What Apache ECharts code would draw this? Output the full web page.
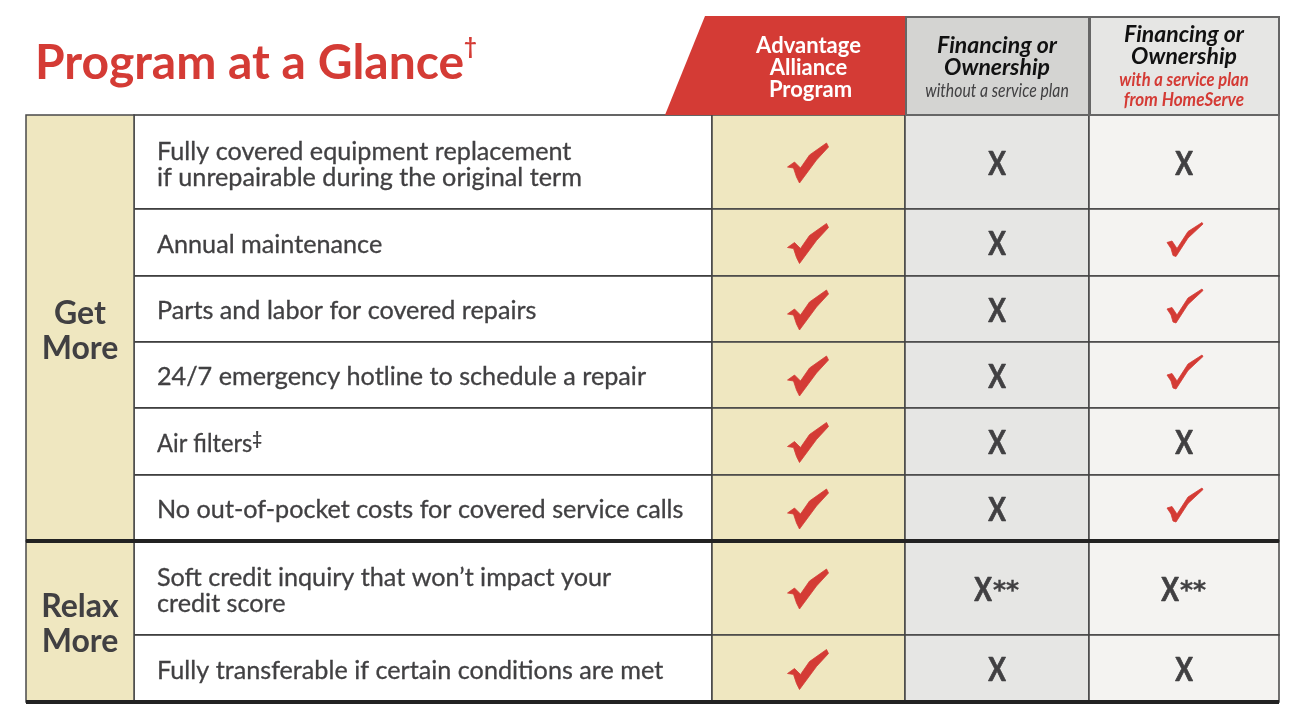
<!DOCTYPE html>
<html>
<head>
<meta charset="utf-8">
<title>Program at a Glance</title>
<style>html,body{margin:0;padding:0;background:#fff}#main{width:1295px;height:724px}</style>
<script src="https://cdn.jsdelivr.net/npm/echarts@6/dist/echarts.min.js"></script>
</head>
<body>
<div id="main"></div>
<script>
// table content
var titleText = 'Program at a Glance';
var groups = ['Get\nMore', 'Relax\nMore'];
var groupRows = [[0, 5], [6, 7]];
var rowLabels = [
	'Fully covered equipment replacement\nif unrepairable during the original term',
	'Annual maintenance',
	'Parts and labor for covered repairs',
	'24/7 emergency hotline to schedule a repair',
	'Air filters',
	'No out-of-pocket costs for covered service calls',
	'Soft credit inquiry that won\u2019t impact your\ncredit score',
	'Fully transferable if certain conditions are met'
];
var advantage = ['check', 'check', 'check', 'check', 'check', 'check', 'check', 'check'];
var withoutPlan = ['X', 'X', 'X', 'X', 'X', 'X', 'X**', 'X'];
var withPlan = ['X', 'check', 'check', 'check', 'X', 'check', 'X**', 'X'];

// layout of the table on the value axes
var colEdges = [26, 134, 712, 905, 1089, 1279];
var rowEdges = [115, 209, 276, 342, 408, 475, 541, 635, 702];
var headTop = 16;
var font = 'Lato, sans-serif';
var red = '#d43b35', dark = '#414042', cream = '#efe7c0';

// tick glyphs, relative to the centre of the cell
var checkBold = [[-21,5],[-14,0],[-8,6],[1,-7],[18,-19],[20,-15],[8,-2],[-9,21],[-12,15],[-15,6]];
var checkThin = [[-17,0],[-12,-1.5],[-7,6],[4,-11],[18,-20],[19,-18.5],[4,-4.5],[-8,14],[-11,13],[-13,6]];

var cellData = [];
[advantage, withoutPlan, withPlan].forEach(function (col, c) {
	col.forEach(function (v, r) { cellData.push([c, r, v]); });
});
var cellFill = [cream, '#e6e6e4', '#f4f3f1'];

function renderCell(params, api) {
	var c = api.value(0), r = api.value(1), v = cellData[params.dataIndex][2];
	var tl = api.coord([colEdges[c + 2], rowEdges[r]]);
	var br = api.coord([colEdges[c + 3], rowEdges[r + 1]]);
	var cx = (tl[0] + br[0]) / 2, cy = (tl[1] + br[1]) / 2;
	var kids = [{
		type: 'rect',
		shape: { x: tl[0], y: tl[1], width: br[0] - tl[0], height: br[1] - tl[1] },
		style: { fill: cellFill[c], stroke: '#444', lineWidth: 1.5 }
	}];
	if (v === 'check') {
		var pts = c === 0 ? checkBold : checkThin;
		kids.push({
			type: 'polygon',
			shape: { points: pts.map(function (p) { return [cx + p[0], cy + p[1]]; }) },
			style: { fill: red, stroke: red, lineWidth: 0.8, lineJoin: 'round' }
		});
	} else {
		var hasStars = v.length > 1;
		kids.push({
			type: 'text',
			x: hasStars ? cx - 14 : cx, y: cy + 2, scaleX: 0.8, scaleY: 1,
			style: { text: 'X', font: 'bold 33px ' + font, fill: dark, stroke: dark, lineWidth: 0.7, align: 'center', verticalAlign: 'middle' }
		});
		if (hasStars) {
			kids.push({
				type: 'text',
				x: cx - 4, y: cy + 3,
				style: { text: v.slice(1), font: 'bold 25px "DejaVu Sans"', fill: dark, stroke: dark, lineWidth: 0.3, align: 'left', verticalAlign: 'middle' }
			});
		}
	}
	return { type: 'group', children: kids };
}

function renderRow(params, api) {
	var r = api.value(0);
	var tl = api.coord([colEdges[1], rowEdges[r]]);
	var br = api.coord([colEdges[2], rowEdges[r + 1]]);
	var txt = rowLabels[r];
	var rich = {
		t: { font: '25.2px ' + font, fill: dark, lineHeight: 26.5, stroke: dark, lineWidth: 0.3 },
		s: { font: 'bold 18px ' + font, fill: dark, lineHeight: 18, verticalAlign: 'top' }
	};
	var isAir = txt === 'Air filters';
	var label = isAir ? '{t|' + txt + '}{s|\u2021}' : txt.split('\n').map(function (s) { return '{t|' + s + '}'; }).join('\n');
	return {
		type: 'group',
		children: [{
			type: 'rect',
			shape: { x: tl[0], y: tl[1], width: br[0] - tl[0], height: br[1] - tl[1] },
			style: { fill: '#fff', stroke: '#333', lineWidth: 1.5 }
		}, {
			type: 'text',
			x: tl[0] + 23, y: (tl[1] + br[1]) / 2 + (txt.indexOf('\n') >= 0 ? 3 : 2),
			scaleX: isAir ? 0.94 : 1, scaleY: 1,
			style: { text: label, rich: rich, align: 'left', verticalAlign: 'middle' }
		}]
	};
}

function renderGroup(params, api) {
	var g = api.value(0), span = groupRows[g];
	var tl = api.coord([colEdges[0], rowEdges[span[0]]]);
	var br = api.coord([colEdges[1], rowEdges[span[1] + 1]]);
	return {
		type: 'group',
		children: [{
			type: 'rect',
			shape: { x: tl[0], y: tl[1], width: br[0] - tl[0], height: br[1] - tl[1] },
			style: { fill: cream, stroke: '#4a4a4a', lineWidth: 1.5 }
		}, {
			type: 'text',
			x: (tl[0] + br[0]) / 2, y: (tl[1] + br[1]) / 2 + 3,
			style: { text: groups[g], font: 'bold 32px ' + font, fill: dark, align: 'center', verticalAlign: 'middle', lineHeight: 35 }
		}]
	};
}

function txt(x, y, s, fnt, fill, sx) {
	return {
		type: 'text', x: x, y: y, scaleX: sx || 1, scaleY: 1,
		style: { text: s, font: fnt, fill: fill, align: 'center', verticalAlign: 'middle' }
	};
}

function renderHead(params, api) {
	var c = api.value(0);
	var top = api.coord([colEdges[c + 2], headTop]);
	var bot = api.coord([colEdges[c + 3], rowEdges[0]]);
	var cx = (top[0] + bot[0]) / 2;
	var kids = [];
	if (c === 0) {
		kids.push({
			type: 'polygon',
			shape: { points: [api.coord([705, headTop]), [bot[0], top[1]], bot, api.coord([665, rowEdges[0]])] },
			style: { fill: red }
		});
		kids.push(txt(cx, top[1] + 30, 'Advantage', 'bold 22px ' + font, '#fff'));
		kids.push(txt(cx, top[1] + 52, 'Alliance', 'bold 22px ' + font, '#fff'));
		kids.push(txt(cx + 2, top[1] + 74, 'Program', 'bold 22px ' + font, '#fff'));
	} else {
		kids.push({
			type: 'rect',
			shape: { x: top[0] + 1, y: top[1] + 1, width: bot[0] - top[0] - 1, height: bot[1] - top[1] - 1 },
			style: { fill: c === 1 ? '#d4d4d2' : '#e6e6e4', stroke: '#666', lineWidth: 2 }
		});
		var ital = 'italic bold 23px ' + font;
		if (c === 1) {
			kids.push(txt(cx, top[1] + 30, 'Financing or', ital, '#111'));
			kids.push(txt(cx, top[1] + 52, 'Ownership', ital, '#111'));
			kids.push(txt(cx, top[1] + 75, 'without a service plan', 'italic 19px ' + font, dark, 0.83));
		} else {
			kids.push(txt(cx, top[1] + 19, 'Financing or', ital, '#111'));
			kids.push(txt(cx, top[1] + 41, 'Ownership', ital, '#111'));
			kids.push(txt(cx, top[1] + 64, 'with a service plan', 'italic bold 19px ' + font, red, 0.87));
			kids.push(txt(cx, top[1] + 84, 'from HomeServe', 'italic bold 19px ' + font, red, 0.9));
		}
	}
	return { type: 'group', children: kids };
}

function renderRule(params, api) {
	var r = api.value(0);
	var a = api.coord([colEdges[0], rowEdges[r]]);
	var b = api.coord([colEdges[5], rowEdges[r]]);
	return {
		type: 'line',
		shape: { x1: a[0], y1: a[1], x2: b[0], y2: b[1] },
		style: { stroke: '#222', lineWidth: 4 }
	};
}

function customSeries(fn, data, z) {
	return { type: 'custom', renderItem: fn, data: data, silent: true, z: z, animation: false, clip: false };
}

var dom = document.getElementById('main');
var myChart = echarts.init(dom);
var option = {
	backgroundColor: '#fff',
	animation: false,
	title: {
		left: 35, top: 36, padding: 0,
		text: '{a|' + titleText + '}{b|\u2020}',
		textStyle: {
			rich: {
				a: { fontFamily: 'Lato', fontWeight: 'bold', fontSize: 48, color: red, lineHeight: 56 },
				b: { fontFamily: 'Lato', fontWeight: 'bold', fontSize: 22, color: red, lineHeight: 42, verticalAlign: 'top' }
			}
		}
	},
	grid: { left: 0, right: 0, top: 0, bottom: 0 },
	xAxis: { type: 'value', min: 0, max: 1295, show: false },
	yAxis: { type: 'value', min: 0, max: 724, inverse: true, show: false },
	series: [
		customSeries(renderRow, rowLabels.map(function (s, i) { return [i]; }), 2),
		customSeries(renderGroup, groups.map(function (s, i) { return [i]; }), 3),
		customSeries(renderCell, cellData.map(function (d) { return [d[0], d[1]]; }), 2),
		customSeries(renderHead, [[0], [1], [2]], 4),
		customSeries(renderRule, [[6], [8]], 5)
	]
};
myChart.setOption(option, true);
</script>
</body>
</html>
